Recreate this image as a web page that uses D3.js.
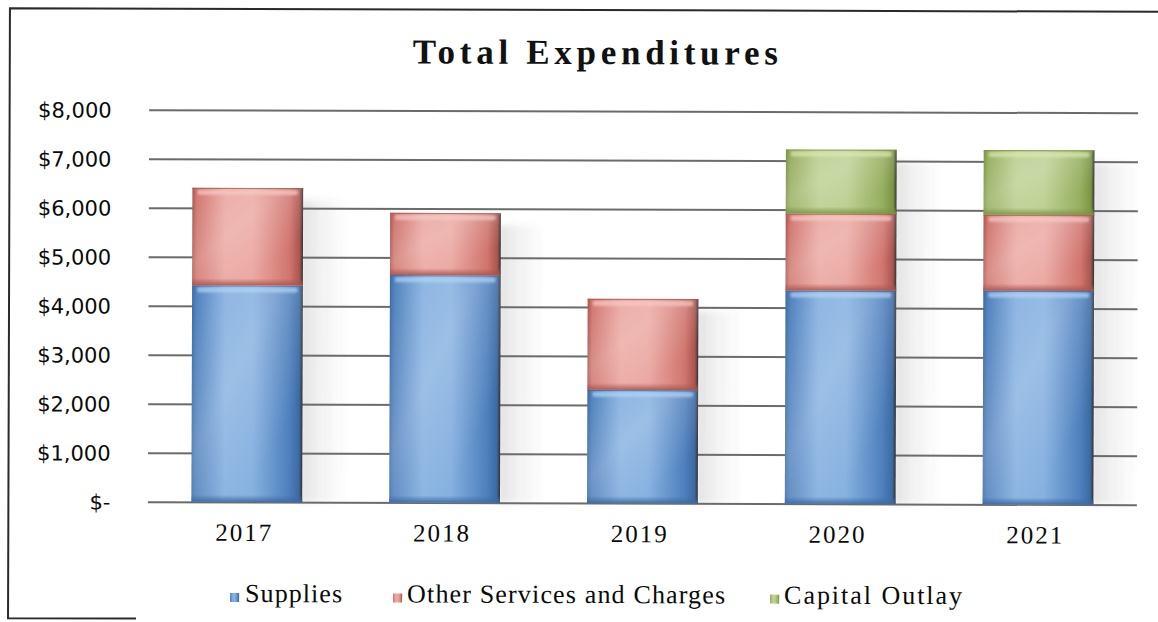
<!DOCTYPE html>
<html>
<head>
<meta charset="utf-8">
<script src="https://cdn.jsdelivr.net/npm/d3@7"></script>
<style>
  html, body { margin: 0; padding: 0; background: #fff; }
  svg { display: block; }
</style>
</head>
<body>
<svg id="chart" width="1158" height="622"></svg>
<script>
// Expenditure data by fiscal year (dollars)
const years = ["2017", "2018", "2019", "2020", "2021"];
const supplies = [4420, 4640, 2310, 4350, 4360];
const otherServices = [1990, 1270, 1860, 1570, 1550];
const capitalOutlay = [0, 0, 0, 1310, 1320];
const seriesNames = ["Supplies", "Other Services and Charges", "Capital Outlay"];
const yTicks = [0, 1000, 2000, 3000, 4000, 5000, 6000, 7000, 8000];
const chartTitle = "Total Expenditures";

// Fill palette per series: edge, middle, top highlight, bottom shade
const palette = [
  { edge: "#4f80bd", mid: "#86b1e0", light: "#b3d6f5", dark: "#3c6aa3" },
  { edge: "#d0756e", mid: "#eba8a2", light: "#f7cbc6", dark: "#a9554f" },
  { edge: "#95ae5e", mid: "#bcd092", light: "#dde9b2", dark: "#7a9444" }
];

const svg = d3.select("#chart");
const root = svg.append("g").attr("transform", "rotate(0.18 579 311)");

const plotLeft = 148.5, plotRight = 1137.5, plotTop = 111, plotBottom = 503;

const rows = years.map((yr, i) => ({
  year: yr,
  "Supplies": supplies[i],
  "Other Services and Charges": otherServices[i],
  "Capital Outlay": capitalOutlay[i]
}));
const stacked = d3.stack().keys(seriesNames)(rows);

const x = d3.scaleBand().domain(years).range([plotLeft, plotRight])
  .paddingInner(0.44).paddingOuter(0.22);
const y = d3.scaleLinear().domain([0, 8000]).range([plotBottom, plotTop]);

// ---- gradient definitions ----
const defs = svg.append("defs");
palette.forEach((p, i) => {
  const g = defs.append("linearGradient").attr("id", "body" + i)
    .attr("x1", 0).attr("y1", 0).attr("x2", 1).attr("y2", 0);
  [[0, p.dark], [0.04, p.edge], [0.3, p.mid], [0.55, p.mid], [0.88, p.edge], [0.97, p.dark], [1, "#333"]]
    .forEach(([o, c]) => g.append("stop").attr("offset", o).attr("stop-color", c));
  const b = defs.append("linearGradient").attr("id", "base" + i)
    .attr("x1", 0).attr("y1", 0).attr("x2", 0).attr("y2", 1);
  b.append("stop").attr("offset", 0).attr("stop-color", p.dark).attr("stop-opacity", 0);
  b.append("stop").attr("offset", 1).attr("stop-color", p.dark).attr("stop-opacity", 0.9);
});
const sheen = defs.append("linearGradient").attr("id", "sheen")
  .attr("x1", 0).attr("y1", 0).attr("x2", 1).attr("y2", 1);
[[0, 0], [0.4, 0.18], [0.75, 0]].forEach(([o, a]) =>
  sheen.append("stop").attr("offset", o).attr("stop-color", "#fff").attr("stop-opacity", a));
const shade = defs.append("linearGradient").attr("id", "shade")
  .attr("x1", 0).attr("y1", 0).attr("x2", 1).attr("y2", 0);
[[0, 0.18], [0.35, 0.09], [1, 0]].forEach(([o, a]) =>
  shade.append("stop").attr("offset", o).attr("stop-color", "#555").attr("stop-opacity", a));
defs.append("filter").attr("id", "soft").attr("x", "-20%").attr("y", "-20%")
  .attr("width", "140%").attr("height", "140%")
  .append("feGaussianBlur").attr("stdDeviation", 3);
defs.append("filter").attr("id", "glow").attr("x", "-10%").attr("y", "-50%")
  .attr("width", "120%").attr("height", "200%")
  .append("feGaussianBlur").attr("stdDeviation", 0.8);

// ---- frame ----
root.append("path")
  .attr("d", "M137,620 H9 V10 H1175")
  .attr("fill", "none").attr("stroke", "#2a2a2a").attr("stroke-width", 2);

// ---- title ----
root.append("text")
  .attr("x", 412).attr("y", 64)
  .attr("textLength", 365).attr("lengthAdjust", "spacing")
  .style("font-family", "'Liberation Serif', 'Times New Roman', serif")
  .style("font-weight", "bold").style("font-size", "35px").style("fill", "#111")
  .text(chartTitle);

// ---- bar shadows (drawn beneath gridlines) ----
const totals = years.map((yr, i) => supplies[i] + otherServices[i] + capitalOutlay[i]);
root.append("g").attr("filter", "url(#soft)")
  .selectAll("rect").data(years).join("rect")
  .attr("x", d => x(d) + x.bandwidth() - 2)
  .attr("y", (d, i) => y(totals[i]) + 12)
  .attr("width", 46)
  .attr("height", (d, i) => plotBottom - y(totals[i]) - 12)
  .attr("fill", "url(#shade)");

// ---- gridlines ----
const grid = root.append("g").attr("transform", `translate(${plotLeft},0)`)
  .call(d3.axisLeft(y).tickValues(yTicks).tickSize(-(plotRight - plotLeft)).tickFormat(""));
grid.select(".domain").remove();
grid.selectAll(".tick line").attr("stroke", "#6b6b6b").attr("stroke-width", 2);

// ---- y labels ----
const fmt = v => v === 0 ? "$-" : "$" + d3.format(",")(v);
const yAxis = root.append("g").attr("transform", `translate(${plotLeft},0)`)
  .call(d3.axisLeft(y).tickValues(yTicks).tickSize(0).tickPadding(plotLeft - 111).tickFormat(fmt));
yAxis.select(".domain").remove();
yAxis.selectAll("text")
  .attr("dy", "0.36em")
  .style("font-family", "'DejaVu Sans', Verdana, sans-serif")
  .style("font-size", "21px").style("fill", "#0a0a0a");

// ---- x labels ----
const xAxis = root.append("g").attr("transform", `translate(0,${plotBottom})`)
  .call(d3.axisBottom(x).tickSize(0));
xAxis.select(".domain").remove();
xAxis.selectAll("text")
  .attr("x", -3.5).attr("y", 39).attr("dy", 0)
  .attr("textLength", 56).attr("lengthAdjust", "spacing")
  .style("font-family", "'Liberation Serif', 'Times New Roman', serif")
  .style("font-size", "25px").style("fill", "#0a0a0a");

// ---- stacked bars ----
const layers = root.append("g").selectAll("g").data(stacked).join("g");
layers.each(function (layer, li) {
  const p = palette[li];
  const segs = d3.select(this).selectAll("g")
    .data(layer.filter(d => d[1] - d[0] > 0))
    .join("g");
  segs.append("rect")
    .attr("x", d => x(d.data.year)).attr("y", d => y(d[1]))
    .attr("width", x.bandwidth()).attr("height", d => y(d[0]) - y(d[1]))
    .attr("fill", `url(#body${li})`);
  segs.append("rect")
    .attr("x", d => x(d.data.year)).attr("y", d => y(d[1]))
    .attr("width", x.bandwidth()).attr("height", d => y(d[0]) - y(d[1]))
    .attr("fill", "url(#sheen)");
  segs.append("rect")
    .attr("x", d => x(d.data.year)).attr("y", d => y(d[0]) - 7)
    .attr("width", x.bandwidth()).attr("height", 7)
    .attr("fill", `url(#base${li})`);
  segs.append("rect")
    .attr("x", d => x(d.data.year) + 5).attr("y", d => y(d[1]) + 2)
    .attr("width", x.bandwidth() - 10).attr("height", 5).attr("rx", 2)
    .attr("fill", p.light).attr("opacity", 0.7).attr("filter", "url(#glow)");
  segs.append("rect")
    .attr("x", d => x(d.data.year)).attr("y", d => y(d[1]))
    .attr("width", x.bandwidth()).attr("height", 1.2)
    .attr("fill", p.dark).attr("opacity", 0.7);
});

// ---- legend ----
const legendItems = [
  { name: seriesNames[0], mx: 231, tx: 246, tw: 97 },
  { name: seriesNames[1], mx: 394, tx: 408, tw: 318 },
  { name: seriesNames[2], mx: 771, tx: 785, tw: 178 }
];
const leg = root.append("g").selectAll("g").data(legendItems).join("g");
leg.append("rect")
  .attr("x", d => d.mx).attr("y", 594).attr("width", 9).attr("height", 9)
  .attr("fill", (d, i) => `url(#body${i})`);
leg.append("text")
  .attr("x", d => d.tx).attr("y", 603)
  .attr("textLength", d => d.tw).attr("lengthAdjust", "spacing")
  .style("font-family", "'Liberation Serif', 'Times New Roman', serif")
  .style("font-size", "26px").style("fill", "#0a0a0a")
  .text(d => d.name);
</script>
</body>
</html>
